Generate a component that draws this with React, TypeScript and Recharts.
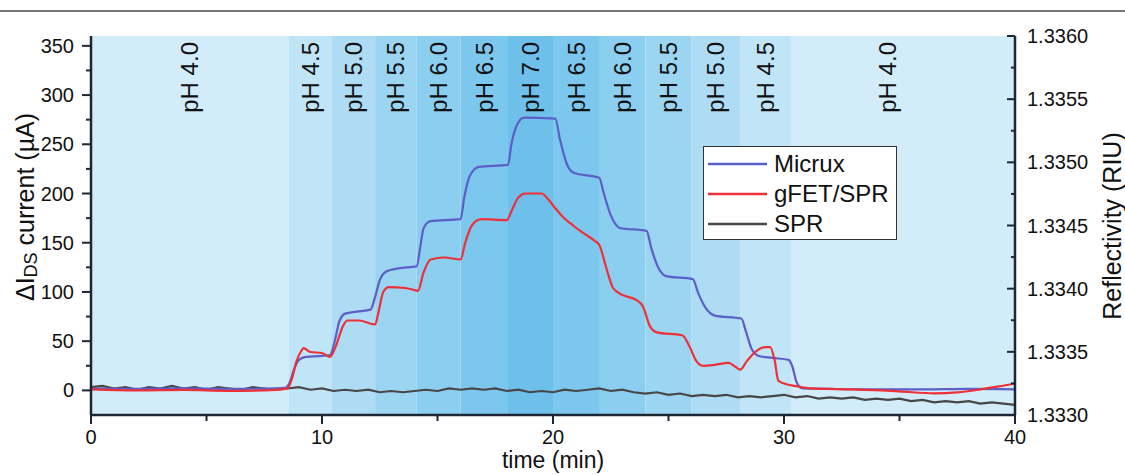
import { Line, LineChart, ReferenceArea, XAxis, YAxis } from "recharts";

// pH steps: start time (min), end time, label, where the label sits
const bandStart = [0, 8.57, 10.43, 12.3, 14.1, 16.0, 18.05, 20.0, 22.03, 24.0, 26.0, 28.1, 30.3];
const bandEnd = [8.57, 10.43, 12.3, 14.1, 16.0, 18.05, 20.0, 22.03, 24.0, 26.0, 28.1, 30.3, 40];
const bandPh = ["pH 4.0", "pH 4.5", "pH 5.0", "pH 5.5", "pH 6.0", "pH 6.5", "pH 7.0", "pH 6.5", "pH 6.0", "pH 5.5", "pH 5.0", "pH 4.5", "pH 4.0"];
const bandLabelAt = [4.28, 9.5, 11.37, 13.2, 15.05, 17.03, 19.03, 21.02, 23.02, 25.0, 27.05, 29.2, 34.46];

// ΔIDS current (µA) vs time (min)
const micrux: [number, number][] = [
  [0, 2], [2, 1.5], [4, 2], [6, 1.5], [8, 2], [8.4, 2.5], [8.6, 8], [8.8, 22], [9.0, 31], [9.3, 34],
  [10.0, 35], [10.35, 36], [10.55, 50], [10.75, 70], [11.0, 78], [11.5, 80], [12.1, 82], [12.3, 95],
  [12.5, 112], [12.8, 121], [13.3, 124], [14.1, 126], [14.25, 145], [14.4, 165], [14.7, 172], [16.0, 174],
  [16.15, 195], [16.4, 218], [16.8, 227], [18.05, 229], [18.2, 250], [18.45, 270], [18.75, 277], [20.1, 276],
  [20.3, 255], [20.6, 230], [20.9, 221], [22.0, 216], [22.2, 200], [22.5, 178], [22.9, 165], [24.05, 162],
  [24.25, 145], [24.55, 125], [24.9, 116], [26.05, 113], [26.3, 98], [26.6, 84], [27.0, 76], [28.15, 73],
  [28.35, 60], [28.6, 42], [28.9, 35], [29.5, 33], [30.2, 31], [30.35, 25], [30.55, 8], [30.8, 2],
  [32, 1.5], [34, 1], [36, 1], [38, 1.5], [40, 1],
];

const gfetSpr: [number, number][] = [
  [0, 1], [2, 0], [4, 0.5], [6, -0.5], [8, 0.5], [8.5, 2], [8.7, 12], [8.9, 30], [9.1, 40], [9.2, 43],
  [9.5, 39], [10.0, 38], [10.35, 34], [10.6, 45], [10.9, 65], [11.1, 71], [11.6, 71], [12.3, 67],
  [12.45, 80], [12.65, 100], [12.9, 105], [13.6, 104], [14.0, 102], [14.15, 101], [14.4, 120], [14.7, 133],
  [15.3, 135], [16.0, 133], [16.2, 150], [16.5, 168], [16.9, 174], [18.0, 173], [18.2, 182], [18.5, 196],
  [18.8, 200], [19.5, 200], [19.8, 194], [20.1, 185], [20.4, 177], [20.9, 167], [21.3, 160], [21.8, 152],
  [22.0, 148], [22.3, 125], [22.6, 104], [23.0, 97], [23.6, 92], [23.9, 85], [24.2, 65], [24.5, 59],
  [25.6, 56], [25.9, 45], [26.2, 30], [26.5, 25], [27.0, 26], [27.6, 28], [27.9, 24], [28.1, 21],
  [28.4, 30], [28.8, 40], [29.2, 44], [29.4, 44], [29.6, 30], [29.75, 10], [30.0, 7], [30.6, 4],
  [31.2, 2], [33, 1], [35, -1], [36.5, -3], [37.5, -2], [38.5, 1], [39.3, 4], [40, 7],
];

// SPR reflectivity (RIU), every 0.5 min from 0 to 40
const sprRiu = [
  1.33322, 1.33323, 1.33321, 1.33322, 1.3332, 1.33322, 1.33321, 1.33323, 1.33321, 1.33322,
  1.3332, 1.33322, 1.33321, 1.3332, 1.33322, 1.33321, 1.3332, 1.33321, 1.33322, 1.3332,
  1.33321, 1.33319, 1.3332, 1.33319, 1.3332, 1.33318, 1.33319, 1.33318, 1.33319, 1.3332,
  1.33319, 1.33321, 1.3332, 1.33321, 1.3332, 1.33321, 1.33319, 1.3332, 1.33318, 1.33319,
  1.33318, 1.3332, 1.33319, 1.3332, 1.33321, 1.33319, 1.3332, 1.33318, 1.33317, 1.33318,
  1.33316, 1.33317, 1.33315, 1.33316, 1.33315, 1.33316, 1.33314, 1.33315, 1.33314, 1.33315,
  1.33316, 1.33314, 1.33315, 1.33313, 1.33314, 1.33313, 1.33314, 1.33312, 1.33313, 1.33312,
  1.33313, 1.33311, 1.33312, 1.3331, 1.33311, 1.3331, 1.33311, 1.33309, 1.3331, 1.33309,
  1.33308,
];

const leftTicks = [0, 25, 50, 75, 100, 125, 150, 175, 200, 225, 250, 275, 300, 325, 350];
const rightTicks = [1.333, 1.33325, 1.3335, 1.33375, 1.334, 1.33425, 1.3345, 1.33475, 1.335, 1.33525, 1.3355, 1.33575, 1.336];
const xTicks = [0, 5, 10, 15, 20, 25, 30, 35, 40];

const bandColors = ["#d2ecf9", "#c0e5f6", "#addcf4", "#9bd5f2", "#8bcef0", "#7cc7ee", "#6ebfea", "#7cc7ee", "#8bcef0", "#9bd5f2", "#addcf4", "#c0e5f6", "#d2ecf9"];
const AXIS = "#1c2733";
const FONT = "'Liberation Sans', Arial, sans-serif";

const series = [
  { name: "Micrux", color: "#5b5fc7" },
  { name: "gFET/SPR", color: "#ee3038" },
  { name: "SPR", color: "#474747" },
];

const micruxData = micrux.map(([t, v]) => ({ t, v }));
const gfetData = gfetSpr.map(([t, v]) => ({ t, v }));
const sprData = sprRiu.map((v, i) => ({ t: i * 0.5, v }));

const LeftTick = ({ x, y, payload }: any) => {
  const major = payload.value % 50 === 0;
  return (
    <g>
      <line x1={x} x2={x - (major ? 9 : 5)} y1={y} y2={y} stroke={AXIS} strokeWidth={2} />
      {major && (
        <text x={x - 17} y={y} textAnchor="end" dominantBaseline="central" fontSize={20} fontFamily={FONT} fill="#111">
          {payload.value}
        </text>
      )}
    </g>
  );
};

const RightTick = ({ x, y, payload }: any) => {
  const major = Math.round(payload.value * 20000) % 10 === 0;
  return (
    <g>
      <line x1={x} x2={x - (major ? 8 : 4)} y1={y} y2={y} stroke={AXIS} strokeWidth={2} />
      {major && (
        <text x={x + 12} y={y} textAnchor="start" dominantBaseline="central" fontSize={20} fontFamily={FONT} fill="#111">
          {payload.value.toFixed(4)}
        </text>
      )}
    </g>
  );
};

const BottomTick = ({ x, y, payload }: any) => {
  const major = payload.value % 10 === 0;
  return (
    <g>
      <line x1={x} x2={x} y1={y} y2={y + (major ? 9 : 6)} stroke={AXIS} strokeWidth={2} />
      {major && (
        <text x={x} y={y + 22} textAnchor="middle" dominantBaseline="central" fontSize={20} fontFamily={FONT} fill="#111">
          {payload.value}
        </text>
      )}
    </g>
  );
};

const LegendBox = () => (
  <div
    style={{
      position: "absolute",
      left: 703,
      top: 146,
      border: "1.5px solid #333",
      background: "#fff",
      width: 194,
      height: 94,
      boxSizing: "border-box",
      paddingTop: 2,
      fontFamily: FONT,
      fontSize: 24,
      color: "#111",
    }}
  >
    {series.map((s) => (
      <div key={s.name} style={{ display: "flex", alignItems: "center", height: 30 }}>
        <svg width={70} height={30}>
          <line x1={4} x2={63} y1={15} y2={15} stroke={s.color} strokeWidth={2.5} />
        </svg>
        <span style={{ lineHeight: "30px" }}>{s.name}</span>
      </div>
    ))}
  </div>
);

export default function App() {
  return (
    <div style={{ position: "fixed", left: 0, top: 0, width: 1125, height: 475, background: "#fff" }}>
      <div style={{ position: "absolute", left: 0, top: 10, width: 1125, height: 2, background: "#777" }} />
      <LineChart width={1125} height={475} margin={{ top: 36, right: 0, bottom: 0, left: 0 }}>
        <XAxis
          xAxisId="t"
          type="number"
          dataKey="t"
          domain={[0, 40]}
          ticks={xTicks}
          height={60}
          allowDataOverflow
          tickSize={0}
          tickMargin={0}
          tick={<BottomTick />}
          axisLine={{ stroke: AXIS, strokeWidth: 2.5 }}
          label={{
            content: () => (
              <text x={553} y={460} textAnchor="middle" dominantBaseline="central" fontSize={23} fontFamily={FONT} fill="#111">
                time (min)
              </text>
            ),
          }}
        />
        <YAxis
          yAxisId="left"
          orientation="left"
          width={91}
          domain={[-25, 360]}
          ticks={leftTicks}
          allowDataOverflow
          tickSize={0}
          tickMargin={0}
          tick={<LeftTick />}
          axisLine={{ stroke: AXIS, strokeWidth: 2.5 }}
          label={{
            content: () => (
              <text
                x={25}
                y={207}
                transform="rotate(-90 25 207)"
                textAnchor="middle"
                dominantBaseline="central"
                fontSize={25}
                fontFamily={FONT}
                fill="#111"
              >
                ΔI
                <tspan fontSize={18} dy={6}>DS</tspan>
                <tspan dy={-6}> current (µA)</tspan>
              </text>
            ),
          }}
        />
        <YAxis
          yAxisId="right"
          orientation="right"
          width={110}
          domain={[1.333, 1.336]}
          ticks={rightTicks}
          allowDataOverflow
          tickSize={0}
          tickMargin={0}
          tick={<RightTick />}
          axisLine={{ stroke: AXIS, strokeWidth: 2.5 }}
          label={{
            content: () => (
              <text
                x={1112}
                y={226}
                transform="rotate(-90 1112 226)"
                textAnchor="middle"
                dominantBaseline="central"
                fontSize={25}
                fontFamily={FONT}
                fill="#111"
              >
                Reflectivity (RIU)
              </text>
            ),
          }}
        />
        {bandStart.map((start, i) => (
          <ReferenceArea
            key={i}
            xAxisId="t"
            yAxisId="left"
            x1={start}
            x2={bandEnd[i]}
            fill={bandColors[i]}
            fillOpacity={1}
            stroke="none"
            label={{
              content: (props: any) => {
                const vb = props.viewBox;
                const cx = vb.x + ((bandLabelAt[i] - start) / (bandEnd[i] - start)) * vb.width;
                const ty = vb.y + 6;
                return (
                  <text
                    x={cx}
                    y={ty}
                    transform={`rotate(-90 ${cx} ${ty})`}
                    textAnchor="end"
                    dominantBaseline="central"
                    fontSize={24}
                    fontFamily={FONT}
                    fill="#111"
                  >
                    {bandPh[i]}
                  </text>
                );
              },
            }}
          />
        ))}
        <Line xAxisId="t" yAxisId="right" data={sprData} dataKey="v" type="linear" stroke={series[2].color} strokeWidth={2.2} dot={false} isAnimationActive={false} />
        <Line xAxisId="t" yAxisId="left" data={micruxData} dataKey="v" type="monotone" stroke={series[0].color} strokeWidth={2.2} dot={false} isAnimationActive={false} />
        <Line xAxisId="t" yAxisId="left" data={gfetData} dataKey="v" type="monotone" stroke={series[1].color} strokeWidth={2.2} dot={false} isAnimationActive={false} />
      </LineChart>
      <LegendBox />
    </div>
  );
}
